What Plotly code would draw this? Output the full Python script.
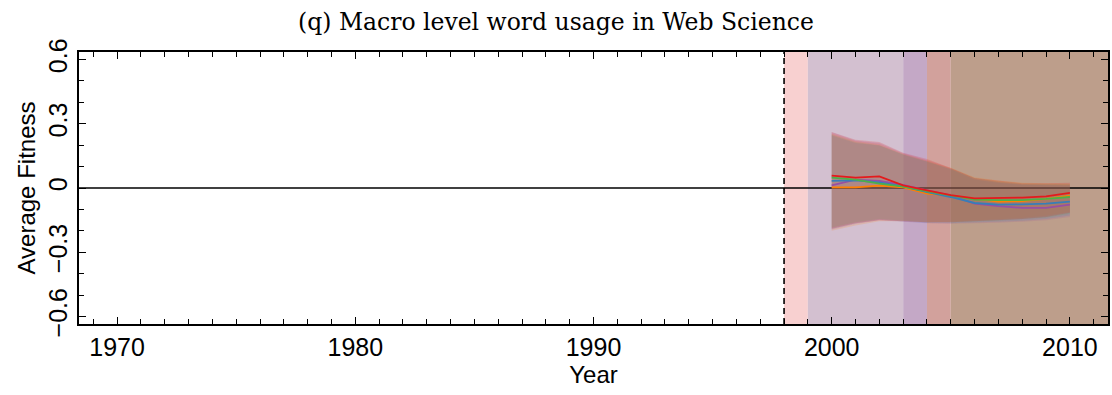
import plotly.graph_objects as go

# Years with fitness estimates
years = [2000, 2001, 2002, 2003, 2004, 2005, 2006, 2007, 2008, 2009, 2010]

# Mean fitness per series
red_mean = [0.058, 0.048, 0.054, 0.012, -0.011, -0.033, -0.048, -0.048, -0.045, -0.039, -0.023]
green_mean = [0.048, 0.039, 0.020, 0.006, -0.016, -0.036, -0.054, -0.057, -0.057, -0.051, -0.042]
blue_mean = [0.033, 0.036, 0.026, 0.008, -0.019, -0.042, -0.070, -0.078, -0.076, -0.073, -0.064]
purple_mean = [0.012, 0.039, 0.033, 0.014, -0.011, -0.034, -0.073, -0.085, -0.093, -0.093, -0.078]
orange_mean = [0.003, 0.003, 0.011, 0.003, -0.026, -0.036, -0.051, -0.064, -0.061, -0.051, -0.036]

# Upper / lower envelopes per series
red_hi = [0.262, 0.225, 0.215, 0.165, 0.135, 0.093, 0.047, 0.033, 0.022, 0.022, 0.025]
red_lo = [-0.190, -0.165, -0.150, -0.155, -0.160, -0.160, -0.155, -0.150, -0.145, -0.135, -0.115]
green_hi = [0.250, 0.215, 0.200, 0.158, 0.125, 0.090, 0.045, 0.030, 0.020, 0.018, 0.018]
green_lo = [-0.185, -0.160, -0.145, -0.152, -0.160, -0.160, -0.157, -0.152, -0.145, -0.138, -0.120]
blue_hi = [0.245, 0.210, 0.198, 0.155, 0.122, 0.088, 0.040, 0.025, 0.015, 0.012, 0.012]
blue_lo = [-0.190, -0.165, -0.148, -0.155, -0.163, -0.165, -0.162, -0.158, -0.153, -0.145, -0.128]
purple_hi = [0.260, 0.222, 0.210, 0.162, 0.130, 0.092, 0.045, 0.028, 0.018, 0.015, 0.015]
purple_lo = [-0.195, -0.168, -0.150, -0.157, -0.165, -0.167, -0.165, -0.162, -0.157, -0.150, -0.135]
orange_hi = [0.255, 0.220, 0.205, 0.160, 0.128, 0.095, 0.050, 0.035, 0.025, 0.022, 0.020]
orange_lo = [-0.200, -0.175, -0.155, -0.155, -0.160, -0.158, -0.152, -0.147, -0.140, -0.130, -0.112]

# Shaded periods
band_start = [1998, 1999, 2003, 2004, 2005]
band_end = [1999, 2003, 2004, 2005, 2011.6]
band_color = ["#f8d0d0", "#d3c0d0", "#c4a8c6", "#d2a19c", "#bd9e8b"]

x_range = [1968.4, 2011.6]
y_range = [-0.635, 0.635]

series = [
    ("orange", orange_mean, orange_hi, orange_lo, "#ff7f00", "rgba(255,127,0,0.16)"),
    ("purple", purple_mean, purple_hi, purple_lo, "#984ea3", "rgba(152,78,163,0.16)"),
    ("blue", blue_mean, blue_hi, blue_lo, "#377eb8", "rgba(55,126,184,0.16)"),
    ("green", green_mean, green_hi, green_lo, "#4daf4a", "rgba(77,175,74,0.16)"),
    ("red", red_mean, red_hi, red_lo, "#e41a1c", "rgba(228,26,28,0.18)"),
]

fig = go.Figure()

for name, mean, hi, lo, col, fill in series:
    fig.add_trace(go.Scatter(x=years, y=hi, mode="lines", line=dict(width=0),
                             showlegend=False, hoverinfo="skip"))
    fig.add_trace(go.Scatter(x=years, y=lo, mode="lines", line=dict(width=0),
                             fill="tonexty", fillcolor=fill,
                             showlegend=False, hoverinfo="skip"))

for name, mean, hi, lo, col, fill in series:
    fig.add_trace(go.Scatter(x=years, y=mean, mode="lines", name=name,
                             line=dict(color=col, width=1.8), showlegend=False))

shapes = []
for s, e, c in zip(band_start, band_end, band_color):
    shapes.append(dict(type="rect", xref="x", yref="y", x0=s, x1=e,
                       y0=y_range[0], y1=y_range[1], fillcolor=c,
                       line=dict(width=0), layer="below"))
shapes.append(dict(type="line", xref="x", yref="y", x0=x_range[0], x1=x_range[1],
                   y0=0, y1=0, line=dict(color="black", width=1.5), layer="below"))
shapes.append(dict(type="line", xref="x", yref="y", x0=band_start[0], x1=band_start[0],
                   y0=y_range[0], y1=y_range[1], line=dict(color="black", width=1.6, dash="6px,4px")))

sans = "Liberation Sans, Arial, sans-serif"
axis_common = dict(
    showgrid=False, zeroline=False, showline=True, linecolor="black", linewidth=2,
    mirror="ticks", ticks="inside", ticklen=7, tickwidth=1.2, tickcolor="black",
    tickfont=dict(family=sans, size=25, color="black"),
)

fig.update_layout(
    width=1112, height=395,
    margin=dict(l=79, r=2, t=52, b=71),
    paper_bgcolor="white", plot_bgcolor="white",
    shapes=shapes,
    title=dict(text="(q) Macro level word usage in Web Science",
               font=dict(family="DejaVu Serif, serif", size=23.5, color="black"),
               x=0.5, xanchor="center", y=0.944, yanchor="middle"),
    xaxis=dict(**axis_common, range=x_range, tick0=1970, dtick=10,
               minor=dict(dtick=1, tick0=1970, ticks="inside", ticklen=5, tickcolor="black"),
               title=dict(text="Year", standoff=6,
                          font=dict(family=sans, size=24, color="black"))),
    yaxis=dict(**axis_common, range=y_range, tickangle=-90,
               tickvals=[-0.6, -0.3, 0, 0.3, 0.6], ticktext=["\u22120.6", "\u22120.3", "0", "0.3", "0.6"],
               minor=dict(dtick=0.1, tick0=0, ticks="inside", ticklen=5, tickcolor="black"),
               title=dict(text="Average Fitness", standoff=2,
                          font=dict(family=sans, size=24, color="black"))),
)

fig.write_html("out.html")
